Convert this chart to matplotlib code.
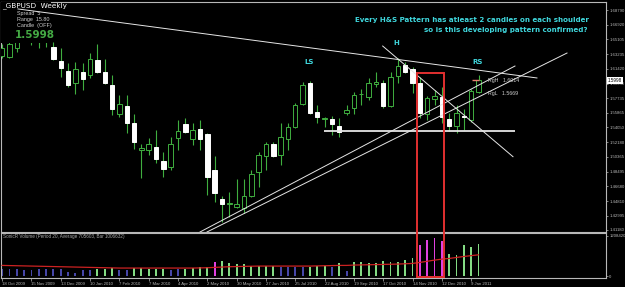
import matplotlib
matplotlib.use("Agg")
import matplotlib.pyplot as plt
import matplotlib.transforms as mtransforms
from matplotlib.patches import Rectangle

# Config
W, H = 625, 287
DPI = 100
OUT_PATH = "out.png"
SMALL_FONT = "Liberation Sans"

# GBPUSD weekly bars, 18 Oct 2009 .. 16 Jan 2011
opens = [1.6302, 1.6289, 1.6402, 1.6528, 1.6653, 1.6728, 1.6578, 1.6415, 1.6239, 1.6113,
         1.5963, 1.6101, 1.6063, 1.6252, 1.6101, 1.5938, 1.5574, 1.5674, 1.5461, 1.5128,
         1.5122, 1.5160, 1.4984, 1.4909, 1.5273, 1.5448, 1.5260, 1.5386, 1.5323, 1.4871,
         1.4507, 1.4450, 1.4407, 1.4394, 1.4545, 1.4846, 1.5047, 1.5197, 1.5059, 1.5260,
         1.5411, 1.5699, 1.5963, 1.5599, 1.5517, 1.5511, 1.5423, 1.5586, 1.5649, 1.5819,
         1.5787, 1.5950, 1.5963, 1.5674, 1.6051, 1.6189, 1.6139, 1.5963, 1.5574, 1.5762,
         1.5787, 1.5511, 1.5423, 1.5549, 1.5499, 1.5850]
highs = [1.6452, 1.6477, 1.6503, 1.6703, 1.6816, 1.6804, 1.6678, 1.6477, 1.6402, 1.6214,
         1.6226, 1.6214, 1.6339, 1.6452, 1.6264, 1.6063, 1.5812, 1.5812, 1.5574, 1.5197,
         1.5273, 1.5373, 1.5097, 1.5285, 1.5499, 1.5524, 1.5461, 1.5499, 1.5335, 1.5047,
         1.4545, 1.4595, 1.4758, 1.4758, 1.4871, 1.5097, 1.5222, 1.5222, 1.5461, 1.5461,
         1.5712, 1.5975, 1.5988, 1.5687, 1.5536, 1.5549, 1.5524, 1.5687, 1.5850, 1.5888,
         1.6026, 1.6101, 1.6001, 1.6101, 1.6277, 1.6226, 1.6164, 1.6038, 1.5800, 1.5875,
         1.5913, 1.5586, 1.5687, 1.5637, 1.5888, 1.6063]
lows = [1.6277, 1.6277, 1.6352, 1.6490, 1.6440, 1.6402, 1.6415, 1.6252, 1.6038, 1.5913,
        1.5825, 1.5875, 1.6026, 1.6088, 1.5950, 1.5561, 1.5536, 1.5335, 1.5135, 1.4771,
        1.5059, 1.4959, 1.4783, 1.4871, 1.5122, 1.5335, 1.5185, 1.5122, 1.4557, 1.4469,
        1.4218, 1.4281, 1.4394, 1.4331, 1.4532, 1.4658, 1.4871, 1.5034, 1.4934, 1.5122,
        1.5398, 1.5687, 1.5574, 1.5461, 1.5411, 1.5310, 1.5285, 1.5561, 1.5574, 1.5687,
        1.5750, 1.5913, 1.5649, 1.5662, 1.5963, 1.6088, 1.5837, 1.5524, 1.5499, 1.5687,
        1.5461, 1.5360, 1.5335, 1.5373, 1.5473, 1.5837]
closes = [1.6402, 1.6452, 1.6477, 1.6653, 1.6728, 1.6603, 1.6628, 1.6264, 1.6151, 1.5938,
          1.6139, 1.6013, 1.6264, 1.6101, 1.5963, 1.5637, 1.5699, 1.5461, 1.5222, 1.5141,
          1.5197, 1.5009, 1.4884, 1.5197, 1.5360, 1.5348, 1.5373, 1.5260, 1.4783, 1.4582,
          1.4444, 1.4457, 1.4444, 1.4545, 1.4821, 1.5059, 1.5197, 1.5047, 1.5285, 1.5411,
          1.5687, 1.5938, 1.5586, 1.5536, 1.5524, 1.5448, 1.5348, 1.5624, 1.5812, 1.5825,
          1.5963, 1.5975, 1.5674, 1.6038, 1.6176, 1.6101, 1.5963, 1.5586, 1.5775, 1.5800,
          1.5536, 1.5423, 1.5586, 1.5530, 1.5862, 1.5998]

# volume (thousands) + indicator class + its 20-period average
volumes = [200, 200, 200, 190, 190, 200, 200, 200, 200, 110,
           80, 180, 180, 200, 200, 230, 180, 180, 230, 230,
           200, 200, 200, 180, 200, 200, 230, 280, 280, 430,
           460, 400, 350, 360, 310, 300, 300, 300, 280, 280,
           280, 260, 280, 300, 300, 260, 400, 150, 430, 430,
           400, 400, 450, 430, 430, 480, 550, 940, 1090, 1150,
           1060, 660, 630, 940, 890, 960]
vol_type = (["low"] * 13 + ["normal"] * 3 + ["low"] * 2 + ["normal"] * 5 + ["low"] * 2
            + ["normal"] * 4 + ["climax"] + ["normal"] * 8 + ["low"] * 4 + ["normal"] * 3
            + ["low", "normal", "low"] + ["normal"] * 9 + ["climax"] * 4 + ["normal"] * 5)
vol_ma = [320, 315, 310, 305, 300, 295, 290, 285, 280, 275,
          270, 265, 260, 255, 250, 245, 240, 240, 240, 240,
          240, 240, 240, 240, 240, 240, 240, 245, 250, 260,
          270, 280, 285, 290, 295, 300, 300, 300, 300, 300,
          300, 300, 300, 305, 310, 315, 320, 320, 330, 335,
          340, 345, 350, 355, 360, 370, 380, 410, 445, 480,
          510, 530, 560, 590, 615, 640]

date_ticks = list(range(0, 66, 4))
date_labels = ["18 Oct 2009", "15 Nov 2009", "13 Dec 2009", "10 Jan 2010", "7 Feb 2010",
               "7 Mar 2010", "4 Apr 2010", "2 May 2010", "30 May 2010", "27 Jun 2010",
               "25 Jul 2010", "22 Aug 2010", "19 Sep 2010", "17 Oct 2010", "14 Nov 2010",
               "12 Dec 2010", "9 Jan 2011"]
price_ticks = [1.68790, 1.66920, 1.65105, 1.63235, 1.61420, 1.59550, 1.57735, 1.55865,
               1.54050, 1.52180, 1.50365, 1.48495, 1.46680, 1.44810, 1.42995, 1.41180]
vol_ticks = [0, 1208420]

# drawn objects: (bar, price) anchors
trendlines = [((2.17, 1.6892), (72.97, 1.6026)),
              ((51.92, 1.6427), (69.70, 1.5038)),
              ((27.0, 1.4093), (69.97, 1.6176)),
              ((27.95, 1.4093), (77.07, 1.6339))]
neckline = (43.9, 69.97, 1.5364)
shoulder_labels = [("LS", 41.87, 1.6224), ("H", 53.83, 1.6461), ("RS", 64.88, 1.6230)]
box_bars = (56.64, 60.29)
box_top = 1.6085
last_price = 1.5998

BG = "black"
GREEN = "#3fae3f"
CYAN = "#3fd6dc"
AXIS_C = "#b8b8b8"
VOL_COLORS = {"low": "#4646a8", "normal": "#84dc84", "climax": "#e040e0"}


def px_box(x0, y0, x1, y1):
    """pixel rect -> figure fraction [l, b, w, h]"""
    return [x0 / W, 1 - y1 / H, (x1 - x0) / W, (y1 - y0) / H]


def style_axes(ax):
    ax.set_facecolor(BG)
    for s in ax.spines.values():
        s.set_color(AXIS_C)
        s.set_linewidth(0.8)
    ax.yaxis.tick_right()
    ax.tick_params(axis="y", colors=AXIS_C, labelsize=3.1, length=1.5, width=0.5, pad=0.8)
    for lab in ax.get_yticklabels():
        lab.set_family(SMALL_FONT)


def draw_candles(ax):
    for i, (o, h, l, c) in enumerate(zip(opens, highs, lows, closes)):
        ax.vlines(i, l, h, color=GREEN, linewidth=0.8, zorder=2)
        bull = c >= o
        body = max(abs(c - o), 0.00015)
        ax.bar(i, body, bottom=min(o, c), width=0.6,
               facecolor=BG if bull else "white",
               edgecolor=GREEN if bull else "white", linewidth=0.7, zorder=3)


def plot_price(fig):
    ax = fig.add_axes(px_box(1, 2, 606, 232))
    ax.set_xlim(-0.15, 82.39)
    ax.set_ylim(1.40929, 1.69794)
    ax.set_xticks([])
    ax.set_yticks(price_ticks)
    ax.set_yticklabels([f"{v:.5f}" for v in price_ticks])
    style_axes(ax)

    draw_candles(ax)

    # indicator panel hides candles behind the info text
    ax.add_patch(Rectangle((-0.15, 1.6470), 6.85, 0.06, facecolor=BG, edgecolor="none", zorder=4))

    for (x0, p0), (x1, p1) in trendlines:
        ax.plot([x0, x1], [p0, p1], color="#e6e6e6", linewidth=0.7, zorder=5)
    ax.hlines(neckline[2], neckline[0], neckline[1], color="#e6e6e6", linewidth=1.3, zorder=5)
    ax.hlines(last_price + 0.0008, 64.1, 65.0, color="#e88070", linewidth=1, zorder=5)

    for txt, x, p in shoulder_labels:
        ax.text(x, p, txt, color=CYAN, fontsize=5, fontweight="bold", ha="center", va="center", zorder=6)

    ax.text(66.3, 1.5992, "RgH   1.6014", color="#cfcfcf", fontsize=3.8, family=SMALL_FONT,
            va="center", zorder=6)
    ax.text(66.3, 1.5825, "RgL   1.5669", color="#cfcfcf", fontsize=3.8, family=SMALL_FONT,
            va="center", zorder=6)

    fig.text(589 / W, 1 - 20 / H, "Every H&S Pattern has atleast 2 candles on each shoulder",
             color=CYAN, fontsize=5.15, fontweight="bold", ha="right", va="center")
    fig.text(588 / W, 1 - 30 / H, "so is this developing pattern confirmed?",
             color=CYAN, fontsize=5.15, fontweight="bold", ha="right", va="center")

    # info block top-left
    fig.text(2 / W, 1 - 6 / H, "_GBPUSD  Weekly", color="white", fontsize=5.2, va="center", zorder=7)
    for k, line in enumerate(["Spread  5", "Range  15.80", "Candle  (OFF)"]):
        fig.text(17 / W, 1 - (13 + 6.3 * k) / H, line, color="#d0d0d0", fontsize=3.9,
                 family=SMALL_FONT, va="center", zorder=7)
    fig.text(15 / W, 1 - 35 / H, "1.5998", color="#44aa44", fontsize=7.5, fontweight="bold", va="center", zorder=7)

    # current price marker on the scale
    ax.text(1.003, last_price, "1.5998",
            transform=mtransforms.blended_transform_factory(ax.transAxes, ax.transData),
            color="black", fontsize=3.3, family=SMALL_FONT, va="center", ha="left",
            bbox=dict(facecolor="white", edgecolor="none", pad=0.6), clip_on=False, zorder=8)
    return ax


def plot_volume(fig):
    ax = fig.add_axes(px_box(1, 233, 606, 278))
    ax.set_xlim(-0.15, 82.39)
    ax.set_ylim(-60420, 1299030)
    x = list(range(len(volumes)))
    vol = [v * 1000 for v in volumes]
    ax.bar(x, vol, width=0.25, color=[VOL_COLORS[t] for t in vol_type], zorder=2)
    ax.plot(x, [v * 1000 for v in vol_ma], color="#cc2222", linewidth=0.9, zorder=3)
    ax.set_yticks(vol_ticks)
    ax.set_yticklabels(["0", "1208420"])
    ax.set_xticks(date_ticks)
    ax.set_xticklabels(date_labels)
    style_axes(ax)
    ax.tick_params(axis="x", colors=AXIS_C, labelsize=3.1, length=2, width=0.5, pad=1)
    for lab in ax.get_xticklabels():
        lab.set_ha("left")
        lab.set_family(SMALL_FONT)
    ax.text(0.003, 0.93, "SonicR Volume (Period 20, Average 705603, Bar 1006632)", transform=ax.transAxes,
            color="#a8a8a8", fontsize=3.3, family=SMALL_FONT, va="center")
    return ax


def main():
    fig = plt.figure(figsize=(W / DPI, H / DPI), dpi=DPI, facecolor=BG)
    ax = plot_price(fig)
    plot_volume(fig)

    # red box spanning price and volume panels
    tr = mtransforms.blended_transform_factory(ax.transData, fig.transFigure)
    top = fig.transFigure.inverted().transform(ax.transData.transform((0, box_top)))[1]
    bottom = 1 - 277 / H
    fig.add_artist(Rectangle((box_bars[0], bottom), box_bars[1] - box_bars[0], top - bottom,
                             transform=tr, facecolor="none", edgecolor="#e23030", linewidth=1.4, zorder=9))
    fig.savefig(OUT_PATH, dpi=DPI, facecolor=BG)


if __name__ == "__main__":
    main()
